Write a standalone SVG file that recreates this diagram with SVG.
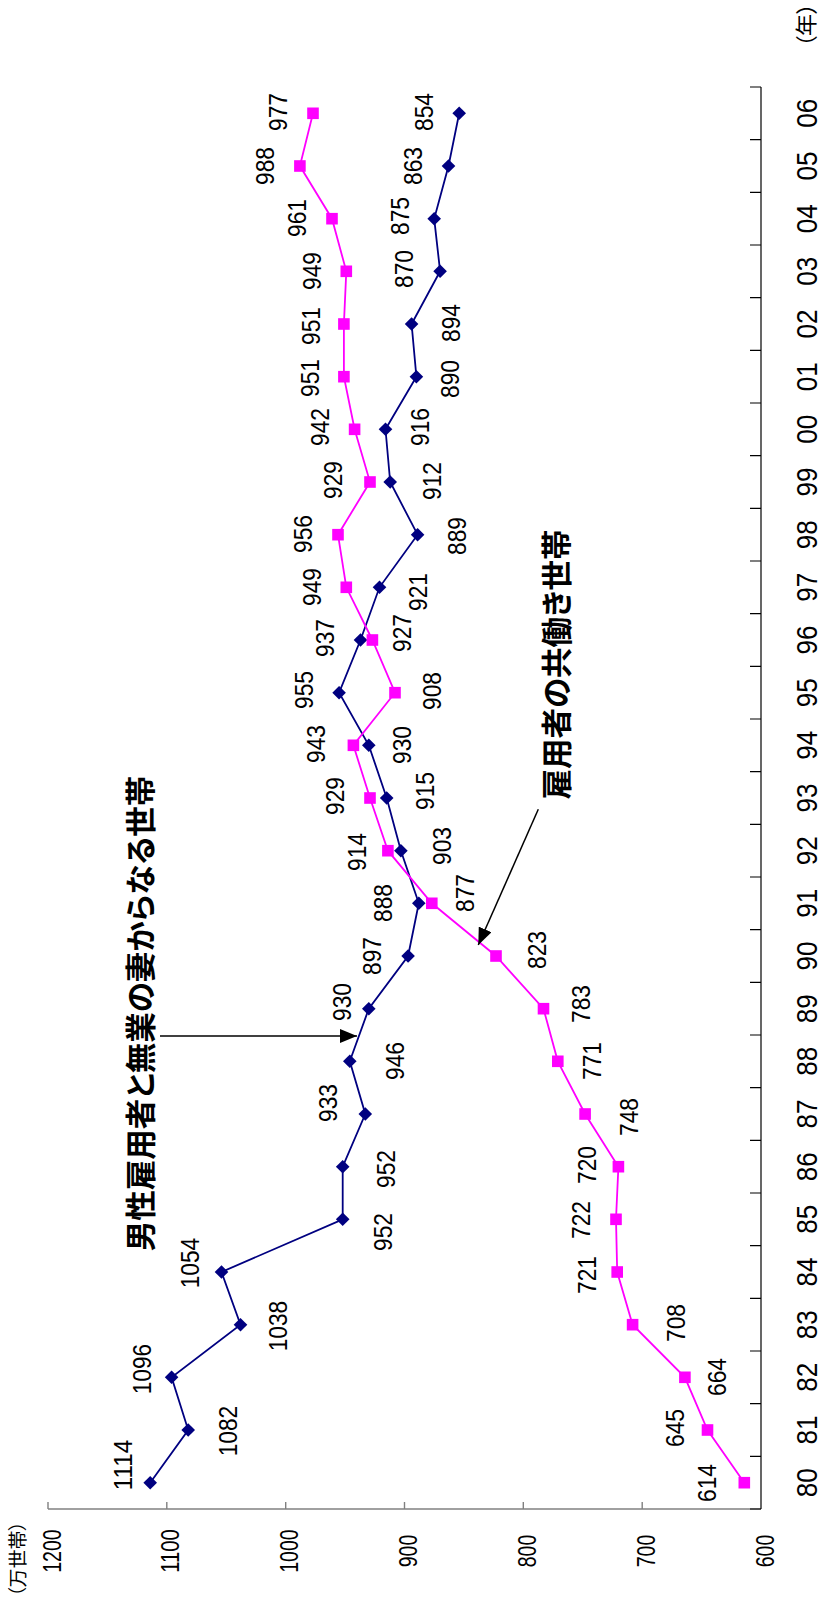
<svg xmlns="http://www.w3.org/2000/svg" width="823" height="1605" viewBox="0 0 823 1605">
<style>
.n{font-family:"Liberation Sans","Noto Sans CJK JP",sans-serif;text-anchor:middle;fill:#000}
.d{font-size:26px}
.yr{font-size:29px}
.vl{font-size:25.5px}
.j{font-family:"Noto Sans CJK JP",sans-serif;font-feature-settings:"palt";fill:#000}
.ann{font-size:30.5px;font-weight:bold}
.navy{fill:none;stroke:#000080;stroke-width:1.8;marker-start:url(#mDia);marker-mid:url(#mDia);marker-end:url(#mDia)}
.pink{fill:none;stroke:#FF00FF;stroke-width:1.8;marker-start:url(#mSq);marker-mid:url(#mSq);marker-end:url(#mSq)}
.arr{fill:none;stroke:#000;stroke-width:1.5;marker-end:url(#head)}
</style>
<defs>
<marker id="mDia" markerUnits="userSpaceOnUse" viewBox="-7 -7 14 14" refX="0" refY="0" markerWidth="14" markerHeight="14" orient="0" overflow="visible">
<path d="M0,-6.8L6.8,0L0,6.8L-6.8,0Z" fill="#000080"/>
</marker>
<marker id="mSq" markerUnits="userSpaceOnUse" viewBox="-6 -6 12 12" refX="0" refY="0" markerWidth="12" markerHeight="12" orient="0" overflow="visible">
<rect x="-5.8" y="-5.8" width="11.6" height="11.6" fill="#FF00FF"/>
</marker>
<marker id="head" markerUnits="userSpaceOnUse" viewBox="0 0 17 14" refX="17" refY="7" markerWidth="17" markerHeight="14" orient="auto">
<path d="M0,0L17,7L0,14Z" fill="#000"/>
</marker>
</defs>
<rect width="823" height="1605" fill="#fff"/>
<g id="chart" transform="translate(0 1605) rotate(-90)">
<g id="value-axis">
<path d="M96,48V761" stroke="#808080" stroke-width="1.6" fill="none"/>
<path d="M96,48H103M96,166.8H103M96,285.7H103M96,404.5H103M96,523.3H103M96,642.2H103" stroke="#808080" stroke-width="1.4" fill="none"/>
<text class="n vl" x="54" y="60.6" textLength="43.5" lengthAdjust="spacingAndGlyphs">1200</text>
<text class="n vl" x="54" y="179.4" textLength="43.5" lengthAdjust="spacingAndGlyphs">1100</text>
<text class="n vl" x="54" y="298.3" textLength="43.5" lengthAdjust="spacingAndGlyphs">1000</text>
<text class="n vl" x="54" y="417.1" textLength="32.6" lengthAdjust="spacingAndGlyphs">900</text>
<text class="n vl" x="54" y="535.9" textLength="32.6" lengthAdjust="spacingAndGlyphs">800</text>
<text class="n vl" x="54" y="654.8" textLength="32.6" lengthAdjust="spacingAndGlyphs">700</text>
<text class="n vl" x="54" y="773.6" textLength="32.6" lengthAdjust="spacingAndGlyphs">600</text>
<text class="j" x="46" y="25.3" font-size="19" text-anchor="middle">（万世帯）</text>
</g>
<g id="category-axis">
<path d="M96,761H1518" stroke="#000" stroke-width="1.2" fill="none"/>
<path d="M96,750V761M148.7,750V761M201.3,750V761M254,750V761M306.7,750V761M359.3,750V761M412,750V761M464.7,750V761M517.3,750V761M570,750V761M622.7,750V761M675.3,750V761M728,750V761M780.7,750V761M833.3,750V761M886,750V761M938.7,750V761M991.3,750V761M1044,750V761M1096.7,750V761M1149.3,750V761M1202,750V761M1254.7,750V761M1307.3,750V761M1360,750V761M1412.7,750V761M1465.3,750V761M1518,750V761" stroke="#000" stroke-width="1.2" fill="none"/>
<g class="n yr">
<text x="122.3" y="817.4" textLength="29" lengthAdjust="spacingAndGlyphs">80</text>
<text x="175" y="817.4" textLength="29" lengthAdjust="spacingAndGlyphs">81</text>
<text x="227.7" y="817.4" textLength="29" lengthAdjust="spacingAndGlyphs">82</text>
<text x="280.3" y="817.4" textLength="29" lengthAdjust="spacingAndGlyphs">83</text>
<text x="333" y="817.4" textLength="29" lengthAdjust="spacingAndGlyphs">84</text>
<text x="385.7" y="817.4" textLength="29" lengthAdjust="spacingAndGlyphs">85</text>
<text x="438.3" y="817.4" textLength="29" lengthAdjust="spacingAndGlyphs">86</text>
<text x="491" y="817.4" textLength="29" lengthAdjust="spacingAndGlyphs">87</text>
<text x="543.7" y="817.4" textLength="29" lengthAdjust="spacingAndGlyphs">88</text>
<text x="596.3" y="817.4" textLength="29" lengthAdjust="spacingAndGlyphs">89</text>
<text x="649" y="817.4" textLength="29" lengthAdjust="spacingAndGlyphs">90</text>
<text x="701.7" y="817.4" textLength="29" lengthAdjust="spacingAndGlyphs">91</text>
<text x="754.3" y="817.4" textLength="29" lengthAdjust="spacingAndGlyphs">92</text>
<text x="807" y="817.4" textLength="29" lengthAdjust="spacingAndGlyphs">93</text>
<text x="859.7" y="817.4" textLength="29" lengthAdjust="spacingAndGlyphs">94</text>
<text x="912.3" y="817.4" textLength="29" lengthAdjust="spacingAndGlyphs">95</text>
<text x="965" y="817.4" textLength="29" lengthAdjust="spacingAndGlyphs">96</text>
<text x="1017.7" y="817.4" textLength="29" lengthAdjust="spacingAndGlyphs">97</text>
<text x="1070.3" y="817.4" textLength="29" lengthAdjust="spacingAndGlyphs">98</text>
<text x="1123" y="817.4" textLength="29" lengthAdjust="spacingAndGlyphs">99</text>
<text x="1175.7" y="817.4" textLength="29" lengthAdjust="spacingAndGlyphs">00</text>
<text x="1228.3" y="817.4" textLength="29" lengthAdjust="spacingAndGlyphs">01</text>
<text x="1281" y="817.4" textLength="29" lengthAdjust="spacingAndGlyphs">02</text>
<text x="1333.7" y="817.4" textLength="29" lengthAdjust="spacingAndGlyphs">03</text>
<text x="1386.3" y="817.4" textLength="29" lengthAdjust="spacingAndGlyphs">04</text>
<text x="1439" y="817.4" textLength="29" lengthAdjust="spacingAndGlyphs">05</text>
<text x="1491.7" y="817.4" textLength="29" lengthAdjust="spacingAndGlyphs">06</text>
</g>
<text class="j" x="1580" y="814.4" font-size="22" text-anchor="middle">（年）</text>
</g>
<g id="series-navy">
<polyline class="navy" points="122.3,150.2 175,188.2 227.7,171.6 280.3,240.5 333,221.5 385.7,342.7 438.3,342.7 491,365.3 543.7,349.8 596.3,368.8 649,408.1 701.7,418.8 754.3,400.9 807,386.7 859.7,368.8 912.3,339.1 965,360.5 1017.7,379.5 1070.3,417.6 1123,390.2 1175.7,385.5 1228.3,416.4 1281,411.6 1333.7,440.1 1386.3,434.2 1439,448.5 1491.7,459.2"/>
<g class="n d">
<text x="140" y="132.3" textLength="50.5" lengthAdjust="spacingAndGlyphs">1114</text>
<text x="174" y="237.3" textLength="50.5" lengthAdjust="spacingAndGlyphs">1082</text>
<text x="236" y="151.3" textLength="50.5" lengthAdjust="spacingAndGlyphs">1096</text>
<text x="279" y="287.3" textLength="50.5" lengthAdjust="spacingAndGlyphs">1038</text>
<text x="342" y="199.3" textLength="50.5" lengthAdjust="spacingAndGlyphs">1054</text>
<text x="373" y="391.8" textLength="38" lengthAdjust="spacingAndGlyphs">952</text>
<text x="436" y="395.3" textLength="38" lengthAdjust="spacingAndGlyphs">952</text>
<text x="502" y="337.3" textLength="38" lengthAdjust="spacingAndGlyphs">933</text>
<text x="544" y="404.3" textLength="38" lengthAdjust="spacingAndGlyphs">946</text>
<text x="603" y="351.3" textLength="38" lengthAdjust="spacingAndGlyphs">930</text>
<text x="649" y="381.3" textLength="38" lengthAdjust="spacingAndGlyphs">897</text>
<text x="702" y="392.3" textLength="38" lengthAdjust="spacingAndGlyphs">888</text>
<text x="759" y="451.3" textLength="38" lengthAdjust="spacingAndGlyphs">903</text>
<text x="814" y="434.3" textLength="38" lengthAdjust="spacingAndGlyphs">915</text>
<text x="860" y="411.3" textLength="38" lengthAdjust="spacingAndGlyphs">930</text>
<text x="915" y="313.3" textLength="38" lengthAdjust="spacingAndGlyphs">955</text>
<text x="967" y="334.3" textLength="38" lengthAdjust="spacingAndGlyphs">937</text>
<text x="1013" y="427.3" textLength="38" lengthAdjust="spacingAndGlyphs">921</text>
<text x="1069" y="466.3" textLength="38" lengthAdjust="spacingAndGlyphs">889</text>
<text x="1124" y="441.3" textLength="38" lengthAdjust="spacingAndGlyphs">912</text>
<text x="1178" y="429.3" textLength="38" lengthAdjust="spacingAndGlyphs">916</text>
<text x="1226" y="459.3" textLength="38" lengthAdjust="spacingAndGlyphs">890</text>
<text x="1282" y="460.3" textLength="38" lengthAdjust="spacingAndGlyphs">894</text>
<text x="1336" y="413.3" textLength="38" lengthAdjust="spacingAndGlyphs">870</text>
<text x="1389" y="409.3" textLength="38" lengthAdjust="spacingAndGlyphs">875</text>
<text x="1439" y="422.3" textLength="38" lengthAdjust="spacingAndGlyphs">863</text>
<text x="1493" y="433.3" textLength="38" lengthAdjust="spacingAndGlyphs">854</text>
</g>
</g>
<g id="series-pink">
<polyline class="pink" points="122.3,744.3 175,707.5 227.7,684.9 280.3,632.6 333,617.2 385.7,616 438.3,618.4 491,585.1 543.7,557.8 596.3,543.5 649,496 701.7,431.8 754.3,387.9 807,370 859.7,353.4 912.3,395 965,372.4 1017.7,346.3 1070.3,338 1123,370 1175.7,354.6 1228.3,343.9 1281,343.9 1333.7,346.3 1386.3,332 1439,299.9 1491.7,313"/>
<g class="n d">
<text x="122" y="716.3" textLength="38" lengthAdjust="spacingAndGlyphs">614</text>
<text x="177" y="684.3" textLength="38" lengthAdjust="spacingAndGlyphs">645</text>
<text x="228" y="726.3" textLength="38" lengthAdjust="spacingAndGlyphs">664</text>
<text x="282" y="685.3" textLength="38" lengthAdjust="spacingAndGlyphs">708</text>
<text x="330" y="596.3" textLength="38" lengthAdjust="spacingAndGlyphs">721</text>
<text x="385" y="590.3" textLength="38" lengthAdjust="spacingAndGlyphs">722</text>
<text x="440" y="596.3" textLength="38" lengthAdjust="spacingAndGlyphs">720</text>
<text x="488" y="638.3" textLength="38" lengthAdjust="spacingAndGlyphs">748</text>
<text x="544" y="601.3" textLength="38" lengthAdjust="spacingAndGlyphs">771</text>
<text x="601" y="590.3" textLength="38" lengthAdjust="spacingAndGlyphs">783</text>
<text x="655" y="546.3" textLength="38" lengthAdjust="spacingAndGlyphs">823</text>
<text x="712" y="474.3" textLength="38" lengthAdjust="spacingAndGlyphs">877</text>
<text x="753" y="366.3" textLength="38" lengthAdjust="spacingAndGlyphs">914</text>
<text x="809" y="344.3" textLength="38" lengthAdjust="spacingAndGlyphs">929</text>
<text x="861" y="325.3" textLength="38" lengthAdjust="spacingAndGlyphs">943</text>
<text x="914" y="441.3" textLength="38" lengthAdjust="spacingAndGlyphs">908</text>
<text x="972" y="411.3" textLength="38" lengthAdjust="spacingAndGlyphs">927</text>
<text x="1018" y="321.3" textLength="38" lengthAdjust="spacingAndGlyphs">949</text>
<text x="1071" y="312.3" textLength="38" lengthAdjust="spacingAndGlyphs">956</text>
<text x="1125" y="342.3" textLength="38" lengthAdjust="spacingAndGlyphs">929</text>
<text x="1178" y="329.3" textLength="38" lengthAdjust="spacingAndGlyphs">942</text>
<text x="1227" y="319.3" textLength="38" lengthAdjust="spacingAndGlyphs">951</text>
<text x="1279" y="320.3" textLength="38" lengthAdjust="spacingAndGlyphs">951</text>
<text x="1334" y="321.3" textLength="38" lengthAdjust="spacingAndGlyphs">949</text>
<text x="1387" y="306.3" textLength="38" lengthAdjust="spacingAndGlyphs">961</text>
<text x="1439" y="274.3" textLength="38" lengthAdjust="spacingAndGlyphs">988</text>
<text x="1493" y="287.3" textLength="38" lengthAdjust="spacingAndGlyphs">977</text>
</g>
</g>
<g id="connectors">
<path class="arr" d="M569,160V357"/>
<path class="arr" d="M795.7,538.3L660,478.3"/>
</g>
<g id="annotation-male-earner">
<text class="j ann" x="591.5" y="151.7" text-anchor="middle">男性雇用者と無業の妻からなる世帯</text>
</g>
<g id="annotation-dual-earner">
<text class="j ann" x="805.5" y="567.7" text-anchor="start">雇用者の共働き世帯</text>
</g>
</g>
</svg>
